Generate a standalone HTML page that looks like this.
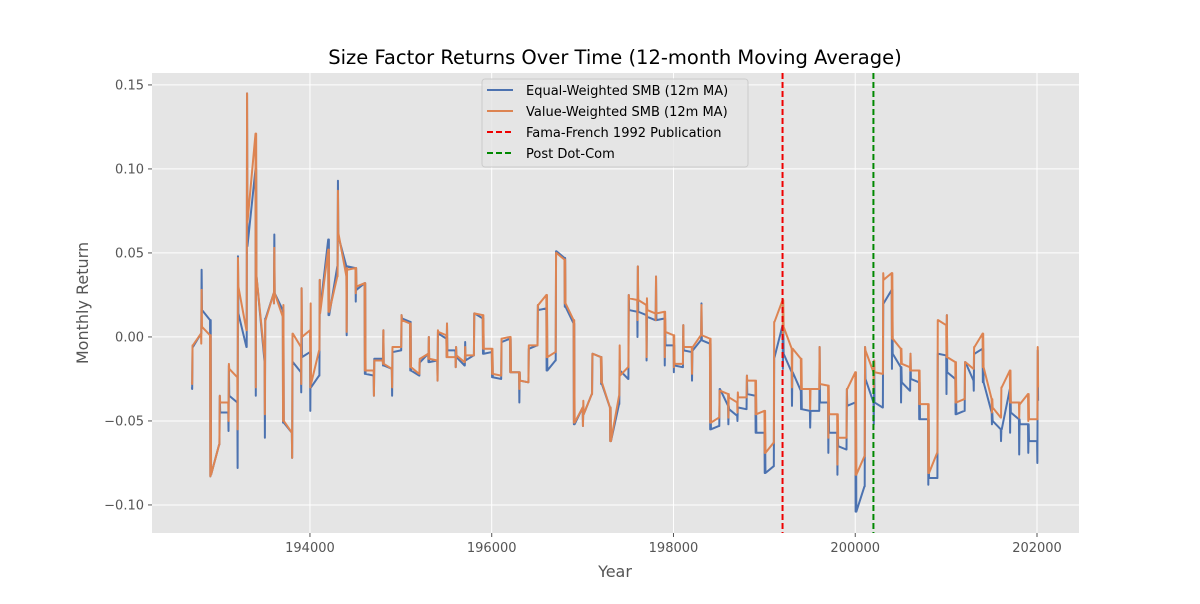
<!DOCTYPE html>
<html><head><meta charset="utf-8">
<style>
body{margin:0;background:#fff;font-family:"DejaVu Sans","Liberation Sans",sans-serif;}
svg text{font-family:"DejaVu Sans","Liberation Sans",sans-serif;}
</style></head>
<body>
<svg id="chart" width="1200" height="600" viewBox="0 0 1200 600">
<rect x="0" y="0" width="1200" height="600" fill="#fff"/>
<rect x="152" y="73" width="927" height="460" fill="#E5E5E5"/>
<g id="grid"></g>
<g id="series"></g>
<g id="vlines"></g>
<g id="axes"></g>
<text x="615" y="64" font-size="19.5" text-anchor="middle" fill="#000">Size Factor Returns Over Time (12-month Moving Average)</text>
<text x="615" y="577" font-size="16" text-anchor="middle" fill="#555">Year</text>
<text x="88" y="303" font-size="16" text-anchor="middle" fill="#555" transform="rotate(-90 88 303)">Monthly Return</text>
<g>
<rect x="482" y="79" width="266" height="88" rx="3" fill="#E5E5E5" fill-opacity="0.8" stroke="#ccc" stroke-width="1"/>
<g><line x1="487" y1="90" x2="513" y2="90" stroke="#4C72B0" stroke-width="2"/><text x="526" y="95" font-size="13" fill="#000">Equal-Weighted SMB (12m MA)</text></g>
<g><line x1="487" y1="111" x2="513" y2="111" stroke="#DD8452" stroke-width="2"/><text x="526" y="116" font-size="13" fill="#000">Value-Weighted SMB (12m MA)</text></g>
<g><line x1="487" y1="132" x2="513" y2="132" stroke="#e00" stroke-width="2" stroke-dasharray="6,3"/><text x="526" y="137" font-size="13" fill="#000">Fama-French 1992 Publication</text></g>
<g><line x1="487" y1="153" x2="513" y2="153" stroke="#080" stroke-width="2" stroke-dasharray="6,3"/><text x="526" y="158" font-size="13" fill="#000">Post Dot-Com</text></g>
</g>
</svg>
<script>
const firstYear = 1927;
// Equal-weighted: start (Jan), end (Dec), low, high per year
const ewStart = [-0.030,0.002,0.010,-0.064,-0.045,-0.039,-0.006,0.100,-0.015,0.026,0.016,-0.057,-0.021,-0.009,-0.023,0.058,0.042,0.042,0.041,0.032,-0.023,-0.013,-0.019,-0.008,0.009,-0.023,-0.010,-0.014,-0.001,-0.008,-0.017,-0.011,0.011,-0.009,-0.025,-0.001,-0.021,-0.027,-0.005,0.017,-0.014,0.047,0.008,-0.042,-0.034,-0.012,-0.042,-0.040,-0.025,0.015,0.013,0.010,0.011,-0.005,-0.018,-0.009,-0.002,-0.004,-0.053,-0.041,-0.047,-0.043,-0.035,-0.057,-0.077,0.007,-0.021,-0.032,-0.044,-0.044,-0.039,-0.057,-0.067,-0.039,-0.089,-0.039,-0.042,0.028,-0.018,-0.032,-0.027,-0.049,-0.084,-0.011,-0.025,-0.044,-0.026,-0.007,-0.045,-0.055,-0.031,-0.049,-0.052,-0.062];
const ewEnd = [-0.006,0.016,-0.082,-0.045,-0.035,0.014,0.054,0.036,0.011,0.026,-0.051,-0.015,-0.012,-0.030,0.016,0.013,0.060,0.042,0.028,-0.022,-0.013,-0.017,-0.009,0.011,-0.020,-0.015,-0.015,0.002,-0.008,-0.012,-0.014,0.014,-0.010,-0.024,-0.003,-0.021,-0.026,-0.007,0.016,-0.020,0.051,0.018,-0.052,-0.046,-0.010,-0.028,-0.062,-0.020,0.016,0.015,0.012,0.010,-0.005,-0.017,-0.008,-0.008,-0.002,-0.055,-0.031,-0.043,-0.042,-0.034,-0.057,-0.081,-0.012,-0.010,-0.021,-0.043,-0.044,-0.039,-0.057,-0.065,-0.041,-0.104,-0.025,-0.039,0.020,-0.010,-0.027,-0.025,-0.049,-0.084,-0.010,-0.021,-0.046,-0.015,-0.010,-0.027,-0.050,-0.055,-0.045,-0.052,-0.062,-0.038];
const ewLow = [-0.031,0.002,-0.083,-0.064,-0.056,-0.078,-0.006,-0.035,-0.060,0.020,-0.051,-0.072,-0.033,-0.044,-0.023,0.013,0.042,0.001,0.021,-0.022,-0.035,-0.017,-0.035,-0.008,-0.020,-0.023,-0.015,-0.026,-0.012,-0.018,-0.017,-0.011,-0.010,-0.024,-0.025,-0.021,-0.039,-0.027,-0.005,-0.020,-0.014,0.018,-0.052,-0.053,-0.034,-0.028,-0.062,-0.040,-0.025,0.000,-0.014,0.010,-0.017,-0.021,-0.018,-0.026,-0.002,-0.055,-0.053,-0.052,-0.050,-0.043,-0.057,-0.081,-0.077,-0.019,-0.041,-0.043,-0.054,-0.044,-0.069,-0.082,-0.067,-0.104,-0.089,-0.052,-0.042,-0.019,-0.039,-0.032,-0.049,-0.088,-0.084,-0.034,-0.046,-0.044,-0.032,-0.027,-0.052,-0.062,-0.057,-0.070,-0.069,-0.075];
const ewHigh = [-0.006,0.040,0.010,-0.035,-0.017,0.048,0.145,0.100,0.011,0.061,0.016,-0.015,0.029,-0.009,0.034,0.058,0.093,0.042,0.041,0.032,-0.013,0.004,-0.009,0.013,0.009,-0.015,0.000,0.003,0.008,-0.006,-0.003,0.014,0.011,-0.009,-0.003,-0.001,-0.021,-0.007,0.019,0.017,0.051,0.047,0.008,-0.042,-0.010,-0.012,-0.042,-0.014,0.025,0.042,0.013,0.036,0.011,-0.005,0.007,-0.008,0.020,-0.004,-0.031,-0.041,-0.042,-0.023,-0.035,-0.057,-0.012,0.007,-0.021,-0.025,-0.044,-0.006,-0.039,-0.057,-0.031,-0.039,-0.006,-0.014,0.020,0.028,-0.018,-0.010,-0.027,-0.049,-0.010,0.013,-0.025,-0.015,-0.010,-0.007,-0.045,-0.055,-0.031,-0.049,-0.052,-0.008];
// Value-weighted: start, end, low, high per year
const vwStart = [-0.027,0.002,0.001,-0.064,-0.039,-0.024,0.004,0.121,-0.012,0.026,0.012,-0.057,-0.006,0.004,-0.008,0.052,0.036,0.036,0.041,0.032,-0.020,-0.014,-0.019,-0.006,0.008,-0.022,-0.010,-0.014,0.001,-0.012,-0.015,-0.011,0.013,-0.007,-0.023,0.000,-0.021,-0.027,-0.005,0.025,-0.009,0.046,0.010,-0.042,-0.034,-0.012,-0.042,-0.035,-0.018,0.022,0.019,0.014,0.015,0.001,-0.016,-0.006,0.001,-0.001,-0.048,-0.034,-0.039,-0.036,-0.026,-0.044,-0.063,0.022,-0.007,-0.013,-0.031,-0.031,-0.029,-0.046,-0.060,-0.021,-0.071,-0.021,-0.022,0.038,-0.007,-0.018,-0.020,-0.040,-0.069,0.007,-0.015,-0.037,-0.019,0.002,-0.037,-0.048,-0.020,-0.039,-0.034,-0.049];
const vwEnd = [-0.005,0.006,-0.082,-0.039,-0.019,0.030,0.068,0.036,0.010,0.026,-0.050,0.002,0.000,-0.028,0.014,0.015,0.062,0.040,0.030,-0.020,-0.014,-0.016,-0.006,0.010,-0.018,-0.013,-0.013,0.003,-0.012,-0.011,-0.011,0.014,-0.007,-0.022,-0.001,-0.021,-0.026,-0.005,0.019,-0.012,0.050,0.020,-0.051,-0.046,-0.010,-0.027,-0.062,-0.023,0.023,0.022,0.016,0.014,0.003,-0.016,-0.006,-0.006,0.001,-0.051,-0.032,-0.036,-0.036,-0.026,-0.046,-0.069,0.009,0.006,-0.007,-0.031,-0.031,-0.028,-0.046,-0.060,-0.031,-0.082,-0.008,-0.021,0.034,-0.001,-0.016,-0.020,-0.040,-0.081,0.010,-0.012,-0.039,-0.015,-0.006,-0.018,-0.042,-0.030,-0.039,-0.040,-0.049,-0.030];
const vwLow = [-0.028,-0.004,-0.083,-0.064,-0.050,-0.055,0.004,-0.030,-0.046,0.020,-0.050,-0.072,-0.028,-0.030,-0.008,0.015,0.036,0.003,0.026,-0.020,-0.035,-0.016,-0.030,-0.006,-0.018,-0.022,-0.013,-0.026,-0.012,-0.018,-0.015,-0.011,-0.007,-0.022,-0.023,-0.021,-0.031,-0.027,-0.005,-0.012,-0.009,0.020,-0.051,-0.053,-0.034,-0.027,-0.062,-0.035,-0.018,0.010,-0.012,0.010,-0.012,-0.018,-0.016,-0.022,0.001,-0.051,-0.048,-0.048,-0.045,-0.036,-0.046,-0.069,-0.063,0.000,-0.030,-0.031,-0.043,-0.031,-0.060,-0.076,-0.060,-0.082,-0.071,-0.030,-0.022,-0.001,-0.016,-0.020,-0.040,-0.081,-0.069,-0.012,-0.039,-0.037,-0.019,-0.018,-0.045,-0.048,-0.039,-0.048,-0.050,-0.049];
const vwHigh = [-0.005,0.028,0.001,-0.035,-0.016,0.047,0.145,0.121,0.010,0.053,0.019,0.002,0.029,0.020,0.034,0.052,0.087,0.041,0.041,0.032,-0.014,0.004,-0.006,0.013,0.008,-0.013,0.000,0.004,0.008,-0.006,-0.006,0.014,0.013,-0.007,-0.001,0.000,-0.021,-0.005,0.019,0.025,0.050,0.046,0.010,-0.038,-0.010,-0.012,-0.042,-0.005,0.025,0.042,0.023,0.036,0.015,0.001,0.007,-0.006,0.019,-0.001,-0.032,-0.034,-0.033,-0.023,-0.026,-0.044,0.009,0.022,-0.007,-0.013,-0.031,-0.006,-0.029,-0.046,-0.031,-0.021,-0.006,-0.014,0.038,0.038,-0.007,-0.010,-0.020,-0.040,0.010,0.013,-0.015,-0.015,-0.006,0.002,-0.037,-0.030,-0.020,-0.039,-0.034,-0.006];
const xTicks = [194000,196000,198000,200000,202000];
const yTicks = [-0.10,-0.05,0.00,0.05,0.10,0.15];
const eventDates = [199200,200200];
const eventColors = ['#e00','#080'];
const eventNames = ['ff1992-line','dotcom-line'];

const NS='http://www.w3.org/2000/svg';
const X0=152,X1=1079,Y0=73,Y1=533;
const xMin=192262,xMax=202462,yMin=-0.1167,yMax=0.1571;
function xs(v){return X0+(v-xMin)/(xMax-xMin)*(X1-X0);}
function ys(v){return Y1-(v-yMin)/(yMax-yMin)*(Y1-Y0);}
function mk(tag,attrs,parent){const e=document.createElementNS(NS,tag);for(const k in attrs)e.setAttribute(k,attrs[k]);parent.appendChild(e);return e;}
const grid=document.getElementById('grid'),axes=document.getElementById('axes');
xTicks.forEach(t=>{
  const g=mk('line',{x1:xs(t),x2:xs(t),y1:Y0,y2:Y1,stroke:'#fff','stroke-width':1},grid);
  
  
  mk('line',{x1:xs(t),x2:xs(t),y1:Y1,y2:Y1+4,stroke:'#555','stroke-width':1},axes);
  const tx=mk('text',{x:xs(t),y:Y1+19,'font-size':13,'text-anchor':'middle',fill:'#555'},axes);
  tx.textContent=String(t);
  
  
});
yTicks.forEach(t=>{
  const g=mk('line',{x1:X0,x2:X1,y1:ys(t),y2:ys(t),stroke:'#fff','stroke-width':1},grid);
  
  
  mk('line',{x1:X0-4,x2:X0,y1:ys(t),y2:ys(t),stroke:'#555','stroke-width':1},axes);
  const tx=mk('text',{x:X0-8,y:ys(t)+4.5,'font-size':13,'text-anchor':'end',fill:'#555'},axes);
  tx.textContent=(t<0?'\u2212':'')+Math.abs(t).toFixed(2);
  
  
});
function seriesPath(a,z,lo,hi){
  let d='';
  for(let i=0;i<a.length;i++){
    const y=firstYear+i,b=y*100;
    const pts=[[b+1,a[i]],[b+4,Math.min(lo[i],a[i],z[i])],[b+8,Math.max(hi[i],a[i],z[i])],[b+12,z[i]]];
    pts.forEach((p,j)=>{d+=(i===0&&j===0?'M':'L')+xs(p[0]).toFixed(2)+','+ys(p[1]).toFixed(2);});
  }
  return d;
}
const sg=document.getElementById('series');
const ew=mk('path',{d:seriesPath(ewStart,ewEnd,ewLow,ewHigh),fill:'none',stroke:'#4C72B0','stroke-width':2,'stroke-linejoin':'round'},sg);


const vw=mk('path',{d:seriesPath(vwStart,vwEnd,vwLow,vwHigh),fill:'none',stroke:'#DD8452','stroke-width':2,'stroke-linejoin':'round'},sg);


const vl=document.getElementById('vlines');
eventDates.forEach((d,i)=>{
  const l=mk('line',{x1:xs(d),x2:xs(d),y1:Y0,y2:Y1,stroke:eventColors[i],'stroke-width':2,'stroke-dasharray':'6,3'},vl);
  
  
});
</script>
</body></html>
